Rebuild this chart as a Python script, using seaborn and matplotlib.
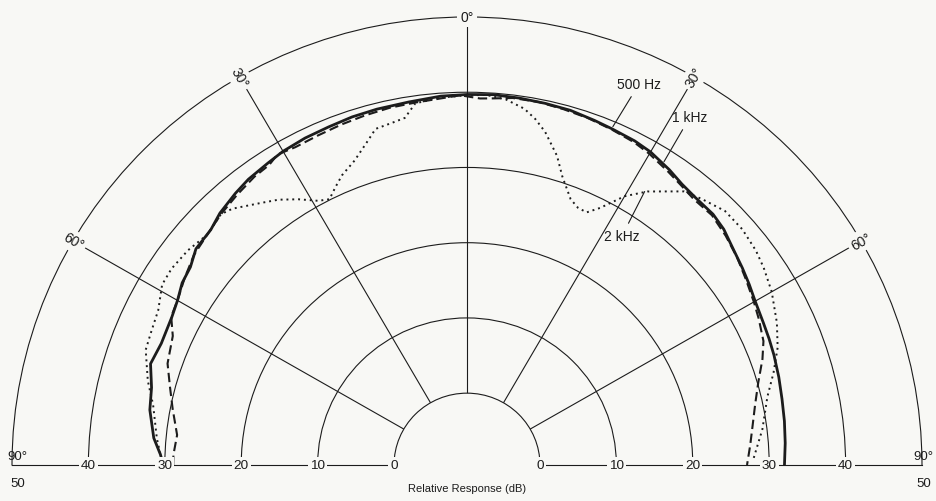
import numpy as np
import pandas as pd
import matplotlib.pyplot as plt
import seaborn as sns

sns.set_theme(style="white")
plt.rcParams['font.family'] = ['Liberation Sans', 'DejaVu Sans']

# angle off axis in degrees (negative = left half) and relative level in dB
ang_500 = [-90, -88, -85, -80, -76, -72, -68, -63, -60, -57, -54, -51, -47, -44, -40, -37, -33,
           -30, -26, -22, -18, -14, -9, -4, 0, 4, 8, 12, 16, 20, 23, 27, 30, 34, 37, 40, 44,
           47, 50, 54, 57, 60, 64, 67, 70, 74, 78, 82, 86, 90]
db_500 = [30.2, 30.6, 31.6, 32.6, 33.0, 34.0, 33.6, 33.8, 34.2, 34.9, 35.2, 36.1, 36.3, 37.0,
          37.6, 38.0, 38.3, 38.6, 38.8, 38.9, 39.1, 39.2, 39.3, 39.6, 39.7, 39.8, 39.7, 39.6,
          39.5, 39.2, 39.0, 38.8, 38.5, 37.8, 37.2, 36.9, 36.8, 36.4, 35.7, 35.0, 34.5, 34.0,
          33.6, 33.4, 33.2, 32.9, 32.6, 32.4, 32.2, 32.0]

ang_1k = [-90, -88, -84, -79, -75, -71, -66, -63, -60, -56, -52, -48, -44, -40, -36, -33, -31,
          -28, -24, -20, -16, -12, -8, -4, -1, 2, 4, 7, 11, 15, 19, 23, 27, 30, 34, 37, 40, 44,
          48, 52, 56, 60, 63, 67, 70, 74, 78, 82, 86, 90]
db_1k = [28.9, 28.9, 28.6, 29.7, 30.7, 31.9, 32.6, 33.9, 34.2, 35.0, 35.8, 36.2, 36.8, 37.3,
         37.8, 38.0, 38.6, 38.3, 38.4, 38.6, 38.8, 39.0, 39.1, 39.3, 39.6, 39.2, 39.3, 39.6,
         39.6, 39.4, 39.2, 38.9, 38.6, 38.2, 37.5, 37.0, 36.6, 36.6, 36.0, 35.3, 34.5, 33.8,
         33.3, 32.6, 31.6, 30.1, 29.0, 28.2, 27.6, 27.1]

ang_2k = [-90, -88, -85, -79, -75, -70, -67, -63, -59, -56, -52, -48, -44, -42, -38, -35, -32,
          -29, -27, -25, -23, -20, -17, -15, -12, -10, -8, -4, 0, 3, 6, 9, 11, 13, 16, 18, 21,
          23, 25, 27, 30, 33, 36, 38, 41, 45, 49, 53, 56, 60, 65, 69, 73, 77, 83, 89]
db_2k = [30.4, 30.6, 31.2, 32.3, 33.7, 35.2, 35.4, 35.8, 37.0, 37.1, 36.8, 36.2, 36.8, 36.3,
         34.6, 33.5, 32.1, 30.6, 30.1, 31.2, 32.3, 33.5, 35.3, 36.7, 37.0, 37.3, 39.0, 39.4,
         39.6, 39.7, 39.3, 38.4, 37.3, 35.9, 33.2, 30.8, 28.3, 27.6, 27.5, 28.8, 31.7, 33.8,
         35.4, 36.6, 37.3, 38.2, 38.2, 37.8, 37.3, 36.5, 35.2, 34.0, 32.4, 30.8, 29.4, 27.9]

freqs = ['500 Hz', '1 kHz', '2 kHz']
ring_values = [0, 10, 20, 30, 40]
ring_labels = ['0', '10', '20', '30', '40']
angle_ticks = [-60, -30, 0, 30, 60]

df = pd.concat([
    pd.DataFrame({'theta': np.deg2rad(a), 'db': d, 'freq': f})
    for a, d, f in zip([ang_500, ang_1k, ang_2k], [db_500, db_1k, db_2k], freqs)
], ignore_index=True)

ink = '#1c1c1c'
paper = '#f8f8f5'
W, H = 937, 502
cx, base = 467, 466      # pole position in pixels (from top)
rh, rv = 455, 448        # outer radius, horizontal / vertical (scan is a bit squashed)

fig = plt.figure(figsize=(W / 100, H / 100), dpi=100, facecolor=paper)
ax = fig.add_axes([(cx - rh) / W, (H - base - rv / 2) / H, 2 * rh / W, 2 * rv / H],
                  projection='polar')
ax.set_aspect('auto')
ax.set_facecolor(paper)
ax.set_theta_zero_location('N')
ax.set_theta_direction(-1)
ax.set_thetamin(-90)
ax.set_thetamax(90)

sns.lineplot(data=df, x='theta', y='db', style='freq', size='freq',
             dashes={'500 Hz': '', '1 kHz': (4.5, 2.2), '2 kHz': (1, 2.0)},
             sizes={'500 Hz': 2.0, '1 kHz': 1.5, '2 kHz': 1.4},
             color=ink, sort=False, estimator=None, legend=False, ax=ax)

ax.set_ylim(0, 50)
ax.set_rorigin(-9.55)
ax.set_xlabel('')
ax.set_ylabel('')
ax.set_thetagrids(angle_ticks)
ax.set_rgrids([10, 20, 30, 40])
ax.set_xticklabels([])
ax.set_yticklabels([])
ax.grid(True, color=ink, linewidth=0.8)
for sp in ax.spines.values():
    sp.set_color(ink)
    sp.set_linewidth(0.8)

box = dict(facecolor=paper, edgecolor='none', pad=2.5)

# angle labels sitting on the outer ring
for a in angle_ticks:
    rot = 0 if a == 0 else np.sign(a) * (90 - abs(a))
    ax.text(np.deg2rad(a), 50, f'{abs(a)}°', rotation=rot, ha='center', va='center',
            fontsize=10, color=ink, bbox=box, zorder=5)

# dB scale along the base line, both sides
for side, dx in [(-90, 4), (90, 1)]:
    t = np.deg2rad(side)
    for v, lab in zip(ring_values, ring_labels):
        ax.text(t, v, lab, ha='center', va='center', fontsize=9.7, color=ink,
                bbox=dict(facecolor=paper, edgecolor='none', pad=1.5), zorder=5)
    ax.annotate('90°', xy=(t, 50), xytext=(dx, 2.5), textcoords='offset points',
                ha='center', va='bottom', fontsize=9.5, color=ink)
    ax.annotate('50', xy=(t, 50), xytext=(dx, -9), textcoords='offset points',
                ha='center', va='top', fontsize=9.5, color=ink)

fig.text(cx / W, (H - 489) / H, 'Relative Response (dB)', ha='center', va='center',
         fontsize=8, color=ink)

# curve call-outs
callouts = [('500 Hz', 23, 39.3, (639, H - 85)),
            ('1 kHz', 32.6, 38.3, (690, H - 118)),
            ('2 kHz', 32.6, 33.6, (622, H - 237))]
for lab, a, r, pos in callouts:
    ax.annotate(lab, xy=(np.deg2rad(a), r), xycoords='data',
                xytext=pos, textcoords='figure pixels', ha='center', va='center',
                fontsize=10, color=ink,
                arrowprops=dict(arrowstyle='-', color=ink, lw=0.8, shrinkA=2, shrinkB=0))

fig.savefig('out.png', dpi=100, facecolor=paper)
